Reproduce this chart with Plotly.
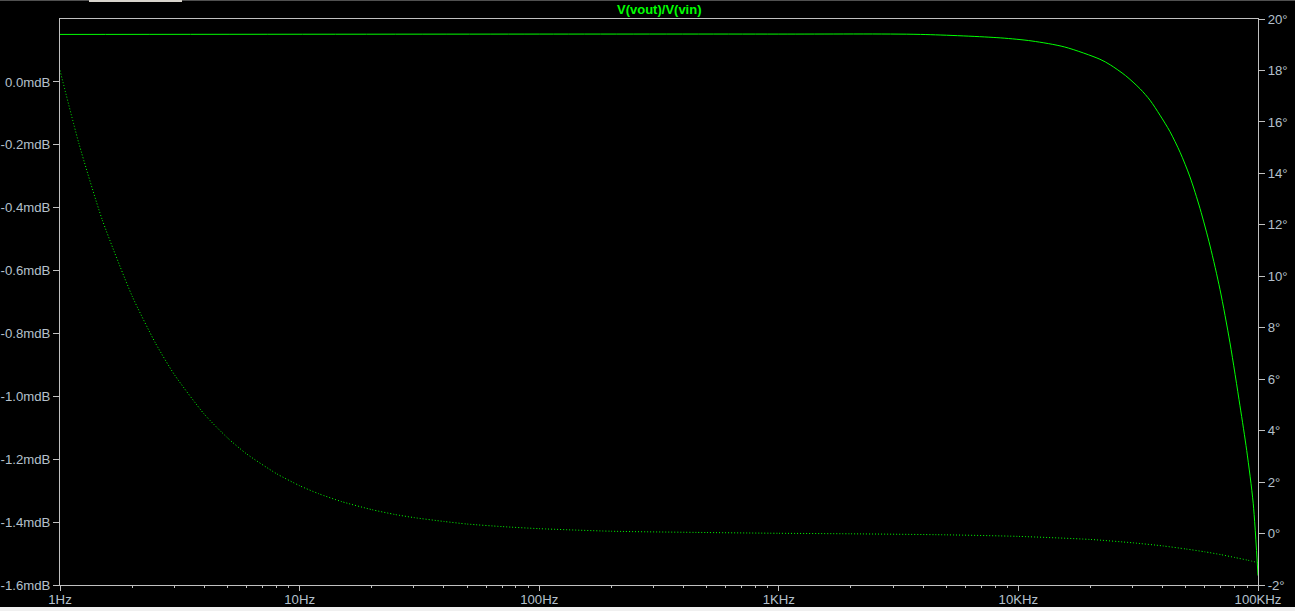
import plotly.graph_objects as go

# Magnitude (solid, left axis, mdB)
mag_freq = [1, 100, 1000, 3900, 8400, 11400, 15600, 21900, 24200, 28000, 32200,
            35400, 39000, 42900, 47300, 52000, 57300, 63100, 69400, 76400, 84100,
            89700, 95500, 100000]
mag_mdb = [0.151, 0.152, 0.152, 0.151, 0.140, 0.130, 0.111, 0.072, 0.054, 0.020,
           -0.022, -0.058, -0.106, -0.158, -0.224, -0.302, -0.403, -0.522, -0.660,
           -0.830, -1.030, -1.172, -1.340, -1.570]

# Phase (dotted, right axis, degrees)
ph_freq = [1, 1.2, 1.5, 2, 2.5, 3, 4, 5, 6, 8, 10, 12, 15, 20, 25, 30, 40, 50, 70,
           100, 200, 500, 1000, 2000, 5000, 10000, 20000, 30000, 40000, 50000,
           60000, 70000, 80000, 90000, 100000]
ph_deg = [18.0, 15.15, 12.2, 9.23, 7.41, 6.18, 4.64, 3.72, 3.10, 2.33, 1.86, 1.55,
          1.24, 0.93, 0.74, 0.62, 0.47, 0.37, 0.27, 0.19, 0.09, 0.04, 0.01, -0.01,
          -0.05, -0.11, -0.23, -0.36, -0.48, -0.60, -0.71, -0.82, -0.93, -1.03, -1.13]

x_tickvals = [1, 10, 100, 1000, 10000, 100000]
x_ticktext = ["1Hz", "10Hz", "100Hz", "1KHz", "10KHz", "100KHz"]
x_minor = [m * d for d in [1, 10, 100, 1000, 10000] for m in range(2, 10)]

left_tickvals = [-1.6, -1.4, -1.2, -1.0, -0.8, -0.6, -0.4, -0.2, 0.0]
left_ticktext = ["-1.6mdB", "-1.4mdB", "-1.2mdB", "-1.0mdB", "-0.8mdB",
                 "-0.6mdB", "-0.4mdB", "-0.2mdB", "0.0mdB"]
right_tickvals = [-2, 0, 2, 4, 6, 8, 10, 12, 14, 16, 18, 20]
right_ticktext = [f"{v}°" for v in right_tickvals]

title_text = "V(vout)/V(vin)"

GREEN = "#00ff00"
AXC = "#c0c0c0"
LBL = "#b4c0cc"
FONT = "Liberation Sans"
FS = 13.2

fig = go.Figure()
fig.add_trace(go.Scatter(x=mag_freq, y=mag_mdb, mode="lines",
                         line=dict(color=GREEN, width=1, shape="spline", smoothing=0.8),
                         yaxis="y", showlegend=False, hoverinfo="skip"))
fig.add_trace(go.Scatter(x=ph_freq, y=ph_deg, mode="lines",
                         line=dict(color=GREEN, width=1, dash="1px,2px", shape="spline", smoothing=0.6),
                         yaxis="y2", showlegend=False, hoverinfo="skip"))

W, H = 1295, 611
L, R, T, B = 60, 37, 19, 26
pw, ph = W - L - R, H - T - B

def px(x):
    return (x - L) / pw

def py(y):
    return (H - B - y) / ph

shapes = [
    dict(type="rect", xref="paper", yref="paper", x0=px(0), x1=px(W), y0=py(607), y1=py(H),
         fillcolor="#f0f0f0", line=dict(width=0), layer="above"),
    dict(type="rect", xref="paper", yref="paper", x0=px(89), x1=px(182), y0=py(2), y1=py(0),
         fillcolor="#d8d4cc", line=dict(width=0), layer="above"),
    dict(type="rect", xref="paper", yref="paper", x0=px(0), x1=px(W), y0=py(1), y1=py(0),
         fillcolor="#505050", line=dict(width=0), layer="below"),
]

fig.update_layout(
    width=W, height=H,
    margin=dict(l=L, r=R, t=T, b=B, pad=0, autoexpand=False),
    paper_bgcolor="black", plot_bgcolor="black",
    font=dict(family=FONT, size=FS, color=LBL),
    shapes=shapes,
    annotations=[dict(text=f"<b>{title_text}</b>", xref="paper", yref="paper",
                      x=px(659), y=py(9), showarrow=False,
                      font=dict(family=FONT, size=13, color=GREEN),
                      xanchor="center", yanchor="middle")],
    xaxis=dict(type="log", range=[0, 5], showgrid=False, zeroline=False, automargin=False,
               showline=True, linecolor=AXC, linewidth=1, mirror=True,
               ticks="outside", ticklen=5, tickcolor=AXC, tickwidth=1,
               ticklabelstandoff=-3,
               tickvals=x_tickvals, ticktext=x_ticktext,
               tickfont=dict(family=FONT, size=FS, color=LBL),
               minor=dict(tickvals=x_minor, ticks="outside", ticklen=2,
                          tickcolor=AXC, tickwidth=1, showgrid=False)),
    yaxis=dict(range=[-1.6, 0.2], showgrid=False, zeroline=False, automargin=False,
               showline=True, linecolor=AXC, linewidth=1,
               ticks="outside", ticklen=6, tickcolor=AXC, tickwidth=1,
               tickvals=left_tickvals, ticktext=left_ticktext,
               tickfont=dict(family=FONT, size=FS, color=LBL)),
    yaxis2=dict(range=[-2, 20], overlaying="y", side="right", showgrid=False,
                zeroline=False, showline=True, linecolor=AXC, linewidth=1, automargin=False,
                ticks="outside", ticklen=6, tickcolor=AXC, tickwidth=1,
                tickvals=right_tickvals, ticktext=right_ticktext,
                tickfont=dict(family=FONT, size=FS, color=LBL)),
)

fig.write_html("out.html", config={"displayModeBar": False},
               post_script="document.body.style.margin='0';document.body.style.overflow='hidden';")
